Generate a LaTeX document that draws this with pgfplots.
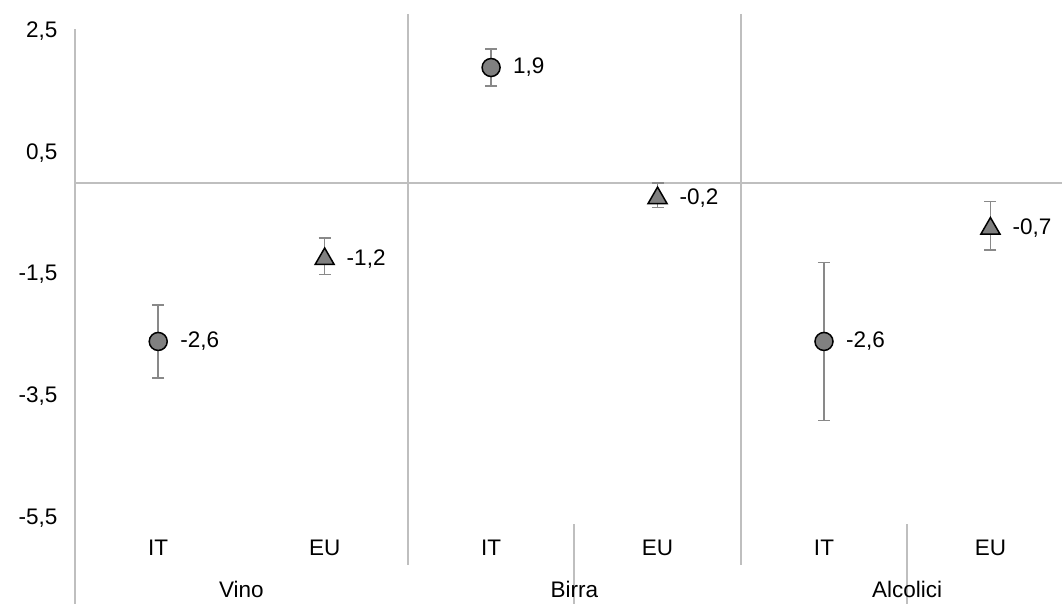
\documentclass[border=0pt]{standalone}
\usepackage{fontspec}
\setmainfont{Liberation Sans}
\usepackage{pgfplots}
\pgfplotsset{compat=1.18}
\definecolor{gridc}{HTML}{BFBFBF}
\definecolor{mk}{HTML}{808080}
\definecolor{eb}{HTML}{898989}

\pgfplotstableread{
x y e lab
0 -2.6 0.6 {-2,6}
2 1.9 0.3 {1,9}
4 -2.6 1.3 {-2,6}
}\itdata
\pgfplotstableread{
x y e lab
1 -1.2 0.3 {-1,2}
3 -0.2 0.2 {-0,2}
5 -0.7 0.4 {-0,7}
}\eudata

\begin{document}
\begin{tikzpicture}
\begin{axis}[
 name=ax,
 scale only axis,
 width=987pt, height=487pt,
 xmin=-0.5, xmax=5.43,
 ymin=-5.5, ymax=2.5,
 ytick={-5.5,-3.5,-1.5,0.5,2.5},
 xtick={0,1,2,3,4,5},
 xticklabels={IT,EU,IT,EU,IT,EU},
 major tick length=0pt,
 axis line style={draw=none},
 clip=false,
 tick label style={font=\fontsize{22.5}{27}\selectfont, text=black},
 /pgf/number format/.cd, use comma, fixed, fixed zerofill, precision=1, assume math mode=true,
 /pgfplots/.cd,
 yticklabel style={anchor=east, xshift=-14pt},
 xticklabel style={anchor=center, yshift=-30pt},
 nodes near coords,
 point meta=explicit symbolic,
 nodes near coords style={anchor=west, xshift=18pt, yshift=0pt, font=\fontsize{22.5}{27}\selectfont, text=black},
]
\draw[gridc, line width=2.2pt] (axis cs:-0.5,0) -- (axis cs:5.43,0);
\draw[gridc, line width=2.2pt] (axis cs:-0.5,2.53) -- (axis cs:-0.5,-7.1);
\draw[gridc, line width=2.2pt] (axis cs:1.5,2.78) -- (axis cs:1.5,-6.27);
\draw[gridc, line width=2.2pt] (axis cs:3.5,2.78) -- (axis cs:3.5,-6.27);
\draw[gridc, line width=2.2pt] (axis cs:2.5,-5.6) -- (axis cs:2.5,-7.1);
\draw[gridc, line width=2.2pt] (axis cs:4.5,-5.6) -- (axis cs:4.5,-7.1);

\addplot[only marks, mark=*, mark size=9pt,
  mark options={fill=mk, draw=black, line width=1.5pt},
  error bars/.cd, y dir=both, y explicit,
  error bar style={line width=1.6pt, draw=eb},
  error mark options={rotate=90, mark size=6pt, line width=1.6pt, draw=eb}]
  table[x=x, y=y, y error=e, meta=lab]{\itdata};

\addplot[only marks, mark=triangle*, mark size=11pt,
  mark options={fill=mk, draw=black, line width=1.5pt, yshift=-2.75pt},
  error bars/.cd, y dir=both, y explicit,
  error bar style={line width=1.6pt, draw=eb},
  error mark options={rotate=90, mark size=6pt, line width=1.6pt, draw=eb}]
  table[x=x, y=y, y error=e, meta=lab]{\eudata};

\node[font=\fontsize{22.5}{27}\selectfont] at (axis cs:0.5,-6.68) {Vino};
\node[font=\fontsize{22.5}{27}\selectfont] at (axis cs:2.5,-6.68) {Birra};
\node[font=\fontsize{22.5}{27}\selectfont] at (axis cs:4.5,-6.68) {Alcolici};
\end{axis}
\pgfresetboundingbox
\path ([shift={(-75pt,-86pt)}]ax.south west) rectangle ([shift={(0pt,31pt)}]ax.north east);
\end{tikzpicture}
\end{document}
